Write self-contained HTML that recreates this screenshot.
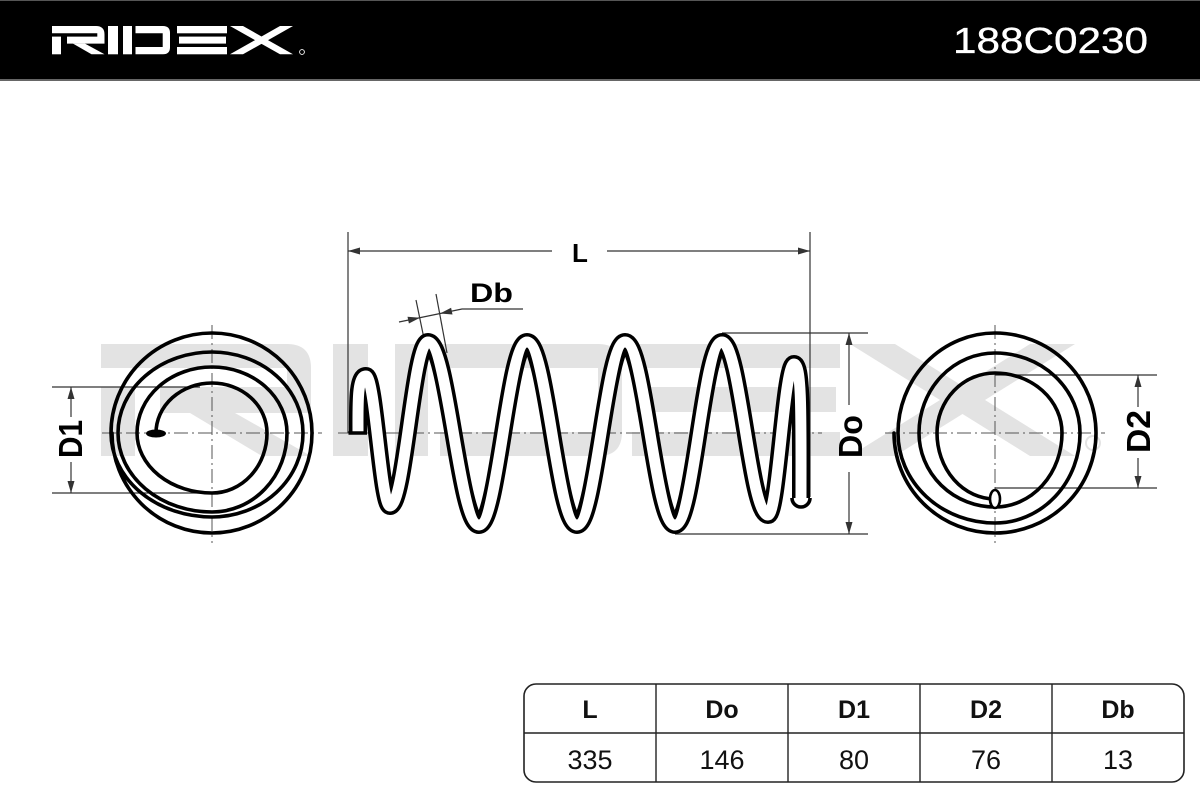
<!DOCTYPE html>
<html>
<head>
<meta charset="utf-8">
<style>
  html,body{margin:0;padding:0;background:#fff;}
  body{width:1200px;height:800px;overflow:hidden;}
  svg{display:block;}
  text{font-family:"Liberation Sans", Arial, sans-serif;}
</style>
</head>
<body>
<svg width="1200" height="800" viewBox="0 0 1200 800" xmlns="http://www.w3.org/2000/svg">
  <!-- Header -->
  <rect x="0" y="0" width="1200" height="80" fill="#000"/>
  <line x1="0" y1="0.5" x2="1200" y2="0.5" stroke="#555" stroke-width="1"/>
  <line x1="0" y1="80" x2="1200" y2="80" stroke="#666" stroke-width="2"/>

  <!-- Header logo -->
  <g transform="translate(52,26)" fill="#fff">
    <path d="M0,0 H44 Q52.5,0 52.5,8.5 V17.6 H15 V10.6 H45.3 V7.3 H0 Z"/>
    <rect x="0" y="10.6" width="9" height="17.7"/>
    <polygon points="21,17.6 33,17.6 52.5,28.3 39.5,28.3"/>
    <rect x="56" y="0" width="10" height="28.3"/>
    <rect x="71" y="0" width="9" height="28.3"/>
    <path d="M83.5,0 H111 Q118,0 118,7 V21.3 Q118,28.3 111,28.3 H83.5 V21 H110.7 V7.3 H83.5 Z"/>
    <rect x="125" y="0" width="50" height="7.3"/>
    <rect x="127" y="10.6" width="47" height="7"/>
    <rect x="125" y="21" width="50" height="7.3"/>
    <polygon points="178,0 191,0 241,28.3 228,28.3"/>
    <polygon points="228,0 241,0 191,28.3 178,28.3"/>
    <circle cx="250" cy="26" r="2.4" fill="none" stroke="#fff" stroke-width="0.9"/>
  </g>
  <text x="953" y="53" font-size="36" fill="#fff" stroke="#fff" stroke-width="0.35" textLength="195" lengthAdjust="spacingAndGlyphs">188C0230</text>

  <!-- Watermark -->
  <g fill="#e3e3e3">
    <path d="M101,344 H287 Q311,344 311,368 V413 H160 V387 H287 V368 H101 Z"/>
    <rect x="101" y="387" width="34" height="69"/>
    <polygon points="190,413 235,413 311,456 262,456"/>
    <rect x="333" y="344" width="35" height="112"/>
    <rect x="395" y="344" width="33" height="112"/>
    <path d="M440,344 H598 Q622,344 622,368 V432 Q622,456 598,456 H440 V432 H598 V368 H440 Z"/>
    <rect x="632" y="344" width="208" height="24"/>
    <rect x="636" y="387" width="200" height="25"/>
    <rect x="632" y="432" width="208" height="24"/>
    <polygon points="850,344 895,344 1075,456 1030,456"/>
    <polygon points="1030,344 1075,344 895,456 850,456"/>
    <circle cx="1093" cy="443" r="7" fill="none" stroke="#e3e3e3" stroke-width="2"/>
  </g>

  <!-- Center lines (dash-dot) -->
  <g stroke="#555" stroke-width="1" stroke-dasharray="14 4 2 4" fill="none">
    <line x1="212" y1="325" x2="212" y2="543"/>
    <line x1="102" y1="433" x2="322" y2="433"/>
    <line x1="338" y1="433" x2="822" y2="433"/>
    <line x1="995" y1="325" x2="995" y2="543"/>
    <line x1="885" y1="433" x2="1105" y2="433"/>
  </g>

  <!-- Dimension / extension lines -->
  <g stroke="#333" stroke-width="1.2" fill="none">
    <line x1="348" y1="232" x2="348" y2="433"/>
    <line x1="810" y1="232" x2="810" y2="497"/>
    <line x1="348" y1="251" x2="552" y2="251"/>
    <line x1="607" y1="251" x2="810" y2="251"/>
    <line x1="722" y1="333" x2="868" y2="333"/>
    <line x1="675" y1="534" x2="868" y2="534"/>
    <line x1="849" y1="333" x2="849" y2="405"/>
    <line x1="849" y1="472" x2="849" y2="534"/>
    <line x1="52" y1="387" x2="200" y2="387"/>
    <line x1="52" y1="493" x2="212" y2="493"/>
    <line x1="71" y1="387" x2="71" y2="417"/>
    <line x1="71" y1="462" x2="71" y2="493"/>
    <line x1="995" y1="375" x2="1157" y2="375"/>
    <line x1="995" y1="488" x2="1157" y2="488"/>
    <line x1="1138" y1="375" x2="1138" y2="407"/>
    <line x1="1138" y1="458" x2="1138" y2="488"/>
    <line x1="416" y1="300" x2="427" y2="353"/>
    <line x1="436" y1="294" x2="447" y2="353"/>
    <polyline points="399,322 462,309 523,309"/>
  </g>
  <g fill="#333">
    <polygon points="348,251 360,247.5 360,254.5"/>
    <polygon points="810,251 798,247.5 798,254.5"/>
    <polygon points="849,333 845.5,345 852.5,345"/>
    <polygon points="849,534 845.5,522 852.5,522"/>
    <polygon points="71,387 67.5,399 74.5,399"/>
    <polygon points="71,493 67.5,481 74.5,481"/>
    <polygon points="1138,375 1134.5,387 1141.5,387"/>
    <polygon points="1138,488 1134.5,476 1141.5,476"/>
    <polygon points="420,317.7 408.9,323.5 407.5,316.7"/>
    <polygon points="440,313.5 452.5,314.5 451.1,307.7"/>
  </g>

  <!-- Left coil (spiral) -->
  <path fill="none" stroke="#000" stroke-width="3.6" stroke-linecap="round"
    d="M156,433 A56 50 0 0 1 212,383 A55 50 0 0 1 267,433 A55 60 0 0 1 212,493 A75 60 0 0 1 137,433
       A75 66 0 0 1 212,367 A75 66 0 0 1 287,433 A75 79 0 0 1 212,512 A94 79 0 0 1 118,433
       A94 81 0 0 1 212,352 A91 81 0 0 1 303,433 A91 84 0 0 1 212,517 A101 84 0 0 1 111,433
       A101 100 0 0 1 212,333 A100 100 0 0 1 312,433 A100 100 0 0 1 212,533 A100 100 0 0 1 112,433"/>
  <ellipse cx="156" cy="433.5" rx="10" ry="4" fill="#000"/>

  <!-- Right coil (spiral) -->
  <path fill="none" stroke="#000" stroke-width="3.6" stroke-linecap="round"
    d="M995,499 A58 66 0 0 1 937,433 A58 60 0 0 1 995,373 A67 60 0 0 1 1062,433 A67 74 0 0 1 995,507
       A76 74 0 0 1 919,433 A76 80 0 0 1 995,353 A85 80 0 0 1 1080,433 A85 90 0 0 1 995,523
       A97 90 0 0 1 898,433 A97 100 0 0 1 995,333 A101 100 0 0 1 1096,433 A101 100 0 0 1 995,533
       A101 100 0 0 1 894,433"/>
  <ellipse cx="995" cy="499" rx="5" ry="9" fill="#fff" stroke="#000" stroke-width="2.6"/>

  <!-- Spring side view -->
  <g fill="none" stroke-linejoin="round">
    <path stroke="#000" stroke-width="18" stroke-linecap="butt"
      d="M358,433 C358,405 357,376 366,376 C375,376 381,506 390,506 C405,506 413,342 428,342
         C448,342 459,525 479,525 C498,525 508,342 527,342 C547,342 557,525 577,525
         C596,525 606,342 625,342 C645,342 655,525 675,525 C694,525 703,342 722,342
         C740,342 750,515 768,515 C778,515 784,364 794,364 C802,364 801,420 801,498"/>
    <path stroke="#fff" stroke-width="11" stroke-linecap="butt"
      d="M358,434 C358,405 357,376 366,376 C375,376 381,506 390,506 C405,506 413,342 428,342
         C448,342 459,525 479,525 C498,525 508,342 527,342 C547,342 557,525 577,525
         C596,525 606,342 625,342 C645,342 655,525 675,525 C694,525 703,342 722,342
         C740,342 750,515 768,515 C778,515 784,364 794,364 C802,364 801,420 801,498"/>
  </g>
  <path d="M792,498 A9 9 0 0 0 810,498" fill="none" stroke="#000" stroke-width="3.6"/>
  <line x1="348.5" y1="433" x2="367" y2="433" stroke="#000" stroke-width="3.6"/>

  <!-- Labels -->
  <g font-weight="bold" fill="#000">
    <text x="580" y="262" font-size="26" text-anchor="middle">L</text>
    <text x="470" y="302" font-size="27" textLength="43" lengthAdjust="spacingAndGlyphs">Db</text>
    <text transform="translate(82,439) rotate(-90)" font-size="33" text-anchor="middle" textLength="38" lengthAdjust="spacingAndGlyphs">D1</text>
    <text transform="translate(862,436.5) rotate(-90)" font-size="33" text-anchor="middle" textLength="43" lengthAdjust="spacingAndGlyphs">Do</text>
    <text transform="translate(1150,431.5) rotate(-90)" font-size="33" text-anchor="middle" textLength="43" lengthAdjust="spacingAndGlyphs">D2</text>
  </g>

  <!-- Table -->
  <rect x="524" y="684" width="660" height="98" rx="12" ry="12" fill="none" stroke="#222" stroke-width="1.6"/>
  <g stroke="#222" stroke-width="1.4">
    <line x1="524" y1="733" x2="1184" y2="733"/>
    <line x1="656" y1="684" x2="656" y2="782"/>
    <line x1="788" y1="684" x2="788" y2="782"/>
    <line x1="920" y1="684" x2="920" y2="782"/>
    <line x1="1052" y1="684" x2="1052" y2="782"/>
  </g>
  <g font-weight="bold" font-size="25" text-anchor="middle" fill="#111">
    <text x="590" y="718">L</text>
    <text x="722" y="718">Do</text>
    <text x="854" y="718">D1</text>
    <text x="986" y="718">D2</text>
    <text x="1118" y="718">Db</text>
  </g>
  <g font-size="27" text-anchor="middle" fill="#111">
    <text x="590" y="769">335</text>
    <text x="722" y="769">146</text>
    <text x="854" y="769">80</text>
    <text x="986" y="769">76</text>
    <text x="1118" y="769">13</text>
  </g>
</svg>
</body>
</html>
